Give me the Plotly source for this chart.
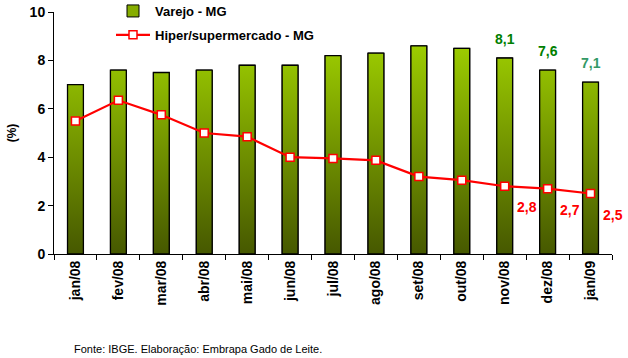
import plotly.graph_objects as go

months = ["jan/08", "fev/08", "mar/08", "abr/08", "mai/08", "jun/08", "jul/08",
          "ago/08", "set/08", "out/08", "nov/08", "dez/08", "jan/09"]
varejo = [7.0, 7.6, 7.5, 7.6, 7.8, 7.8, 8.2, 8.3, 8.6, 8.5, 8.1, 7.6, 7.1]
hiper = [5.5, 6.35, 5.75, 5.0, 4.85, 4.0, 3.95, 3.87, 3.2, 3.05, 2.8, 2.7, 2.5]
varejo_labels = {10: "8,1", 11: "7,6", 12: "7,1"}
hiper_labels = {10: "2,8", 11: "2,7", 12: "2,5"}
yticks = [0, 2, 4, 6, 8, 10]

FONT = "Liberation Sans, Arial"
xs = list(range(len(months)))
bw = 0.37

fig = go.Figure()

fig.add_trace(go.Bar(
    x=xs, y=varejo, width=bw, name="<b>Varejo - MG</b>",
    marker=dict(color="#86ad00", line=dict(color="black", width=1)),
    legendgroup="a",
))

# gradient bars drawn over the plain bars
px_, py_ = [], []
for i, v in zip(xs, varejo):
    px_ += [i - bw / 2, i + bw / 2, i + bw / 2, i - bw / 2, i - bw / 2, None]
    py_ += [0, 0, v, v, 0, None]
fig.add_trace(go.Scatter(
    x=px_, y=py_, mode="lines", fill="toself", showlegend=False,
    line=dict(color="black", width=1.3),
    fillgradient=dict(type="vertical",
                      colorscale=[[0, "#465800"], [1, "#9ccc00"]]),
    hoverinfo="skip",
))

fig.add_trace(go.Scatter(
    x=xs, y=hiper, name="<b>Hiper/supermercado - MG</b>", mode="lines+markers",
    line=dict(color="#ff0000", width=2.2),
    marker=dict(symbol="square", size=8, color="white",
                line=dict(color="#ff0000", width=1.5)),
    legendgroup="b",
))

# invisible trace on overlay axis for boundary ticks
fig.add_trace(go.Scatter(x=[xs[0]], y=[0], xaxis="x2", mode="markers",
                         marker=dict(opacity=0), showlegend=False, hoverinfo="skip"))

lab_colors = {10: "#008000", 11: "#008000", 12: "#339966"}
for i, t in varejo_labels.items():
    fig.add_annotation(x=i, y=varejo[i], text=f"<b>{t}</b>", showarrow=False, yshift=19,
                       font=dict(family=FONT, size=14, color=lab_colors[i]))
for i, t in hiper_labels.items():
    fig.add_annotation(x=i, y=hiper[i], text=f"<b>{t}</b>", showarrow=False,
                       xshift=22, yshift=-21,
                       font=dict(family=FONT, size=14, color="#ff0000"))

fig.add_annotation(xref="paper", yref="paper", x=(72 - 54) / 558, y=-(349 - 254) / 242,
                   xanchor="left", yanchor="middle", showarrow=False,
                   text="Fonte: IBGE. Elaboração: Embrapa Gado de Leite.",
                   font=dict(family=FONT, size=11, color="black"))

fig.update_layout(
    width=628, height=358,
    margin=dict(l=54, r=16, t=12, b=104, autoexpand=False),
    paper_bgcolor="white", plot_bgcolor="white",
    font=dict(family=FONT, color="black"),
    showlegend=True,
    legend=dict(x=(111 - 54) / 558, y=(254 + 4) / 242, xanchor="left", yanchor="top",
                bgcolor="rgba(255,255,255,0)", font=dict(family=FONT, size=13, color="black"),
                tracegroupgap=4, itemwidth=34),
    xaxis=dict(range=[-0.5, len(months) - 0.5], tickvals=xs,
               ticktext=[f"<b>{m}</b>" for m in months],
               tickangle=-90, ticks="", showline=True, linecolor="black", linewidth=1,
               tickfont=dict(family=FONT, size=14, color="black"),
               showgrid=False, zeroline=False, fixedrange=True, automargin=False),
    xaxis2=dict(range=[-0.5, len(months) - 0.5], overlaying="x", matches="x",
                tickvals=[i - 0.5 for i in range(len(months) + 1)],
                showticklabels=False, ticks="outside", ticklen=5, tickcolor="black",
                showgrid=False, zeroline=False, showline=False),
    yaxis=dict(range=[0, 10], tickvals=yticks, ticktext=[f"<b>{v}</b>" for v in yticks],
               ticks="outside", ticklen=5, tickcolor="black", showline=True,
               linecolor="black", linewidth=1, showgrid=False, zeroline=False,
               automargin=False,
               tickfont=dict(family=FONT, size=14, color="black"),
               title=dict(text="<b>(%)</b>", font=dict(family=FONT, size=12, color="black"),
                          standoff=10)),
)

# remove the default 8px page margin so the figure sits at the window's corner
fig.write_html("out.html",
               config={"displayModeBar": False},
               post_script="document.body.style.margin='0';document.body.style.overflow='hidden';")
